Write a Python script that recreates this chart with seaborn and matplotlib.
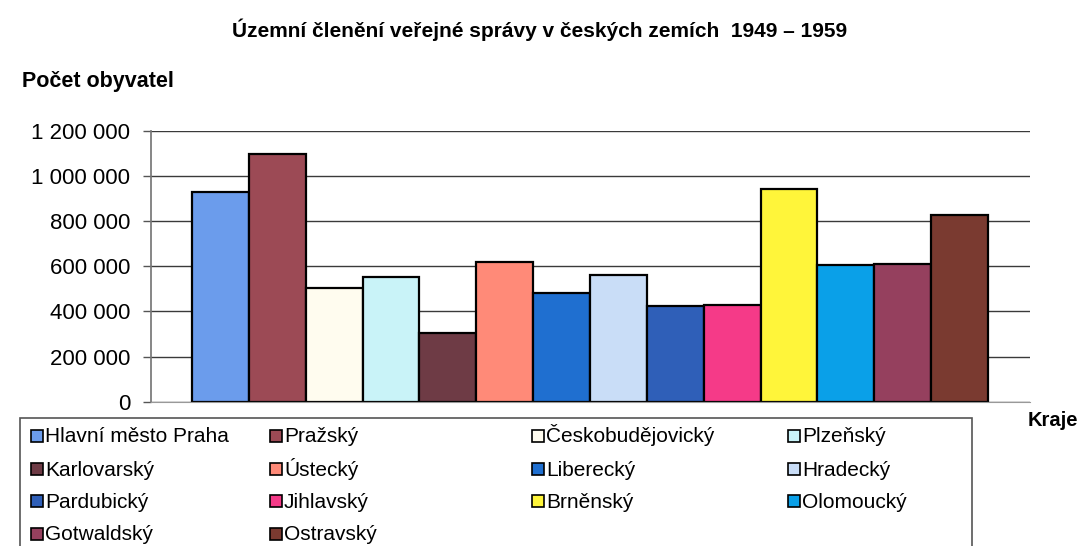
import matplotlib
matplotlib.use("Agg")
import matplotlib.pyplot as plt
import matplotlib.patches as mpatches
from matplotlib.ticker import FuncFormatter
import seaborn as sns

# data
regions = ["Hlavní město Praha", "Pražský", "Českobudějovický", "Plzeňský",
           "Karlovarský", "Ústecký", "Liberecký", "Hradecký",
           "Pardubický", "Jihlavský", "Brněnský", "Olomoucký",
           "Gotwaldský", "Ostravský"]
population = [930000, 1100000, 502000, 555000,
              305000, 620000, 480000, 562000,
              425000, 428000, 945000, 605000,
              612000, 826000]
colors = ["#6b9cec", "#9c4a55", "#fffcef", "#c9f3f8",
          "#6e3b45", "#ff8a78", "#1f6fd0", "#c9ddf7",
          "#2f5fb8", "#f53a88", "#fff53a", "#0aa0e8",
          "#95405e", "#7a3a30"]
y_ticks = [0, 200000, 400000, 600000, 800000, 1000000, 1200000]

sns.set_theme(style="white")
plt.rcParams["font.family"] = ["Liberation Sans", "DejaVu Sans"]
plt.rcParams["text.color"] = "black"
plt.rcParams["ytick.labelcolor"] = "black"

W, H = 1082, 546
fig = plt.figure(figsize=(W / 100, H / 100), dpi=100)
ax = fig.add_axes([151 / W, 1 - 401.7 / H, 879 / W, 270.7 / H])

sns.barplot(x=regions, y=population, hue=regions, palette=colors,
            width=1.0, edgecolor="black", linewidth=1.6, saturation=1,
            legend=False, ax=ax)

ax.set_xlim(-1.22, 14.24)
ax.set_ylim(0, 1200000)
ax.set_yticks(y_ticks)
ax.yaxis.set_major_formatter(FuncFormatter(lambda v, p: f"{int(v):,}".replace(",", " ")))
ax.yaxis.grid(True, color="#3a3a3a", linewidth=1.0)
ax.set_axisbelow(True)
ax.set_xticks([])
ax.set_xlabel("")
ax.set_ylabel("")
ax.tick_params(axis="y", which="both", left=True, length=6, width=1,
               color="#555555", labelcolor="black", labelsize=16, pad=9)
for s in ["top", "right"]:
    ax.spines[s].set_visible(False)
ax.spines["left"].set_color("#777777")
ax.spines["bottom"].set_color("#999999")
ax.spines["bottom"].set_linewidth(0.8)

fig.text(540 / W, 1 - 30 / H, "Územní členění veřejné správy v českých zemích  1949 – 1959",
         ha="center", va="center", fontsize=15, fontweight="bold")
fig.text(22 / W, 1 - 82 / H, "Počet obyvatel", ha="left", va="center",
         fontsize=15.5, fontweight="bold")
fig.text(1028 / W, 1 - 421 / H, "Kraje", ha="left", va="center",
         fontsize=14.5, fontweight="bold")

# legend box (bottom runs off the figure like in the original)
fig.patches.append(mpatches.Rectangle((20 / W, -0.1), 952 / W, 0.1 + 1 - 418 / H,
                                      transform=fig.transFigure, fill=False,
                                      edgecolor="#555555", linewidth=1.2))
col_x = [31, 270, 532, 788]
row_y = [436, 469, 501, 534]
sq = 12
for i, (name, c) in enumerate(zip(regions, colors)):
    x0 = col_x[i % 4]
    y0 = row_y[i // 4]
    fig.patches.append(mpatches.Rectangle((x0 / W, 1 - (y0 + sq / 2) / H), sq / W, sq / H,
                                          transform=fig.transFigure, facecolor=c,
                                          edgecolor="black", linewidth=1.2))
    fig.text((x0 + sq + 2) / W, 1 - (y0 + 6.5) / H, name, ha="left", va="baseline",
             fontsize=15)

fig.savefig("out.png", dpi=100)
